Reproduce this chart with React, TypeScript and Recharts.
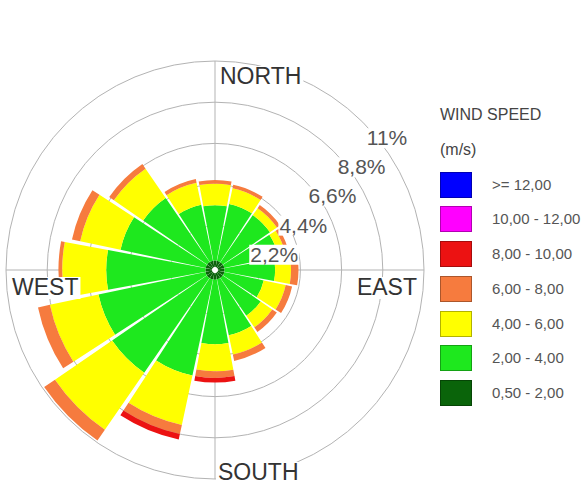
import React from 'react';
import { RadialBarChart, RadialBar, PolarGrid, PolarAngleAxis, PolarRadiusAxis, Legend } from 'recharts';

// 16 compass sectors, clockwise from north
const directions = ['N', 'NNE', 'NE', 'ENE', 'E', 'ESE', 'SE', 'SSE', 'S', 'SSW', 'SW', 'WSW', 'W', 'WNW', 'NW', 'NNW'];

// frequency (%) of each wind speed class per sector
const speed050to200 = [0.35, 0.34, 0.35, 0.35, 0.35, 0.35, 0.35, 0.35, 0.36, 0.36, 0.37, 0.36, 0.35, 0.35, 0.35, 0.35];
const speed200to400 = [2.95, 3.11, 3.05, 2.95, 2.7, 2.15, 2.45, 3.05, 3.44, 5.24, 6.13, 5.84, 5.3, 4.65, 4.15, 3.05];
const speed400to600 = [1.15, 0.85, 0.45, 0.4, 0.85, 1.2, 0.75, 1.05, 1.45, 2.7, 3.7, 2.65, 2.35, 2.2, 1.9, 1.2];
const speed600to800 = [0.2, 0.2, 0.2, 0.2, 0.4, 0.35, 0.3, 0.35, 0.35, 0.5, 0.7, 0.65, 0.2, 0.45, 0.3, 0.2];
const speed800to1000 = [0, 0, 0, 0, 0, 0, 0, 0, 0.25, 0.3, 0, 0, 0, 0, 0, 0];
const speed1000to1200 = [0, 0, 0, 0, 0, 0, 0, 0, 0, 0, 0, 0, 0, 0, 0, 0];
const speed1200plus = [0, 0, 0, 0, 0, 0, 0, 0, 0, 0, 0, 0, 0, 0, 0, 0];

const radiusTicks = [2.2, 4.4, 6.6, 8.8, 11];

// inner to outer, the legend lists them in reverse
const series = [
  { key: 's1', label: '0,50 - 2,00', color: '#0a640a', values: speed050to200 },
  { key: 's2', label: '2,00 - 4,00', color: '#1ee81e', values: speed200to400 },
  { key: 's3', label: '4,00 - 6,00', color: '#ffff00', values: speed400to600 },
  { key: 's4', label: '6,00 - 8,00', color: '#f67b3e', values: speed600to800 },
  { key: 's5', label: '8,00 - 10,00', color: '#ec1212', values: speed800to1000 },
  { key: 's6', label: '10,00 - 12,00', color: '#ff00ff', values: speed1000to1200 },
  { key: 's7', label: '>= 12,00', color: '#0000ff', values: speed1200plus },
];

const data = directions.map((dir, i) => {
  const row: Record<string, any> = { dir };
  series.forEach(s => { row[s.key] = s.values[i]; });
  return row;
});

const CX = 215;
const CY = 270;
const OUTER = 209;
const HALF_SECTOR = 360 / directions.length / 2;
const FONT = '"Liberation Sans", Arial, sans-serif';

let canvas: HTMLCanvasElement | null = null;
const textWidth = (text: string, size: number) => {
  if (!canvas) canvas = document.createElement('canvas');
  const ctx = canvas.getContext('2d');
  if (!ctx) return text.length * size * 0.6;
  ctx.font = `${size}px ${FONT}`;
  return ctx.measureText(text).width;
};

const compassNames: Record<string, string> = { N: 'NORTH', E: 'EAST', S: 'SOUTH', W: 'WEST' };
// where the text sits relative to the point on the r=199 circle
const compassOffset: Record<string, { dx: number; dy: number; anchor: 'start' | 'end' }> = {
  N: { dx: 5, dy: 13, anchor: 'start' },
  S: { dx: 3, dy: 11, anchor: 'start' },
  W: { dx: -4, dy: 25, anchor: 'start' },
  E: { dx: 3, dy: 25, anchor: 'end' },
};

// angle ticks sit at the sector edge, so move the label to the sector middle
const CompassTick = (props: any) => {
  const { payload } = props;
  const name = compassNames[payload.value];
  if (!name) return null;
  const o = compassOffset[payload.value];
  const rad = ((payload.coordinate + HALF_SECTOR) * Math.PI) / 180;
  const r = OUTER - 10;
  const x = CX + r * Math.cos(rad);
  const y = CY - r * Math.sin(rad);
  const size = 23;
  const w = textWidth(name, size);
  const tx = x + o.dx;
  const ty = y + o.dy;
  const left = o.anchor === 'end' ? tx - w : tx;
  return (
    <g>
      <rect x={left - 2} y={ty - 18} width={w + 4} height={22} fill="#fff" />
      <text x={tx} y={ty} textAnchor={o.anchor} fontFamily={FONT} fontSize={size} fill="#333">{name}</text>
    </g>
  );
};

const PercentTick = (props: any) => {
  const { x, y, payload } = props;
  const label = String(payload.value).replace('.', ',') + '%';
  const size = 21;
  const w = textWidth(label, size);
  const tx = x + 4;
  const ty = y + 23;
  return (
    <g>
      <rect x={tx - 1} y={ty - 17} width={w + 2} height={20} fill="#fff" />
      <text x={tx} y={ty} fontFamily={FONT} fontSize={size} fill="#555">{label}</text>
    </g>
  );
};

const SpeedLegend = () => (
  <div style={{ fontFamily: FONT, color: '#444' }}>
    <div style={{ fontSize: 16, lineHeight: '18px' }}>WIND SPEED</div>
    <div style={{ fontSize: 16, lineHeight: '18px', marginTop: 17 }}>(m/s)</div>
    <div style={{ marginTop: 13 }}>
      {[...series].reverse().map(s => (
        <div key={s.key} style={{ display: 'flex', alignItems: 'center', height: 26, marginBottom: 8.8 }}>
          <div style={{ width: 32, height: 26, background: s.color, boxShadow: 'inset 0 0 0 1px rgba(0,0,0,0.3)' }} />
          <span style={{ marginLeft: 20, fontSize: 15, lineHeight: '26px', color: '#555', whiteSpace: 'nowrap' }}>{s.label}</span>
        </div>
      ))}
    </div>
  </div>
);

export default function App() {
  return (
    <div style={{ position: 'absolute', left: 0, top: 0, background: '#fff' }}>
      <RadialBarChart
        width={585}
        height={485}
        data={data}
        layout="centric"
        cx={CX}
        cy={CY}
        innerRadius={3}
        outerRadius={OUTER}
        startAngle={90 - HALF_SECTOR}
        endAngle={90 - HALF_SECTOR - 360}
        barCategoryGap="3%"
        margin={{ top: 0, right: 0, bottom: 0, left: 0 }}
      >
        <PolarGrid gridType="circle" polarAngles={[0, 90, 180, 270]} stroke="#b3b3b3" />
        {series.map(s => (
          <RadialBar key={s.key} dataKey={s.key} stackId="wind" fill={s.color} isAnimationActive={false} />
        ))}
        <PolarAngleAxis type="category" dataKey="dir" tickLine={false} axisLine={false} tick={<CompassTick />} />
        <PolarRadiusAxis type="number" domain={[0, 11]} ticks={radiusTicks} angle={45} axisLine={false} tick={<PercentTick />} />
        <Legend content={<SpeedLegend />} layout="vertical" align="right" verticalAlign="top" wrapperStyle={{ left: 440, top: 105.5, width: 145 }} />
      </RadialBarChart>
    </div>
  );
}
